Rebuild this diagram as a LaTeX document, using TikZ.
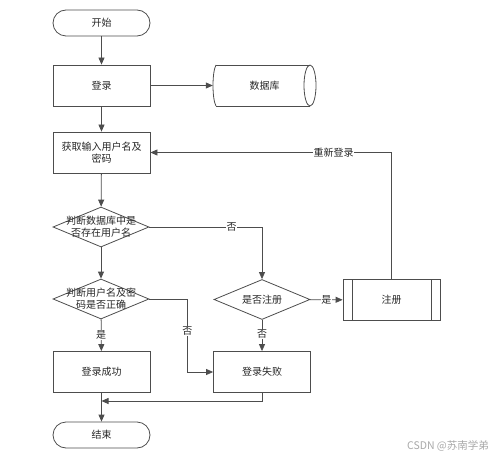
\documentclass[tikz,border=0pt]{standalone}
\usepackage{fontspec}
\newfontfamily\cjk{Noto Sans CJK SC}
\usetikzlibrary{arrows.meta,shapes.geometric}
\definecolor{ln}{HTML}{4D4D4D}
\definecolor{wmc}{HTML}{A8A8A8}
\tikzset{
  base/.style={draw=ln,line width=0.8pt,font=\cjk\fontsize{10}{12}\selectfont,text=black!85,align=center,inner sep=0pt},
  term/.style={base,rectangle,rounded corners=13pt,minimum width=97pt,minimum height=26pt},
  proc/.style={base,rectangle,minimum width=97pt,minimum height=41pt},
  dec/.style={base,diamond,minimum width=96pt,minimum height=40pt,fill=white},
  dtext/.style={font=\cjk\fontsize{10}{12}\selectfont,text=black!85,align=center,inner sep=0pt},
  arr/.style={draw=ln,line width=0.8pt,-{Triangle[length=7pt,width=6pt]}},
  plain/.style={draw=ln,line width=0.8pt},
  lab/.style={font=\cjk\fontsize{10}{12}\selectfont,text=black!85,fill=white,inner sep=0.5pt},
  wm/.style={font=\cjk\fontsize{10.5}{12}\selectfont,text=wmc,inner sep=0pt}
}
\begin{document}
\begin{tikzpicture}[x=1pt,y=-1pt]
\useasboundingbox (0,0) rectangle (500,465);
\node[term] (start) at (101.5,23) {开始};
\node[proc] (login) at (101.5,85.5) {登录};
\node[inner sep=0pt,minimum width=103pt,minimum height=41pt,font=\cjk\fontsize{10}{12}\selectfont,text=black!85] (db) at (264.5,85.5) {数据库};
\draw[plain] (216,65) -- (310,65);
\draw[plain] (216,106) -- (310,106);
\draw[plain] (216,65) .. controls (212,72) and (212,99) .. (216,106);
\draw[plain] (310,85.5) ellipse [x radius=6pt,y radius=20.5pt];
\node[proc] (input) at (101.5,152.5) {获取输入用户名及\\密码};
\node[dec] (d1) at (101,227) {};
\node[dtext] (d1t) at (d1.center) {判断数据库中是\\否存在用户名};
\node[dec] (d2) at (101,299) {};
\node[dtext] (d2t) at (d2.center) {判断用户名及密\\码是否正确};
\node[dec] (d3) at (262,299.5) {};
\node[dtext] (d3t) at (d3.center) {是否注册};
\node[proc] (reg) at (391.5,300) {注册};
\draw[plain] ([xshift=10pt]reg.north west) -- ([xshift=10pt]reg.south west);
\draw[plain] ([xshift=-9pt]reg.north east) -- ([xshift=-9pt]reg.south east);
\node[proc] (succ) at (101.5,372) {登录成功};
\node[proc] (fail) at (262,372) {登录失败};
\node[term] (end) at (101.5,435) {结束};
\coordinate (merge) at (101.5,401);
\node[wm] (wmk) at (448,446) {CSDN @苏南学弟};

\draw[arr] (start) -- (login);
\draw[arr] (login) -- (db);
\draw[arr] (login) -- (input);
\draw[arr] (input) -- (d1);
\draw[arr] (d1) -- (d2);
\draw[arr] (d1.east) -- node[lab,pos=0.73]{否} (d1.east -| d3.north) -- (d3.north);
\draw[arr] (d3) -- node[lab]{是} (reg);
\draw[arr] (reg.north) |- node[lab,pos=0.62]{重新登录} (input.east);
\draw[arr] (d2) -- node[lab]{是} (succ);
\draw[arr] (d3) -- node[lab,pos=0.45]{否} (fail);
\draw[arr] (d2.east) -- ++(38,0) |- node[lab,pos=0.22]{否} (fail.west);
\draw[arr] (fail.south) |- (merge);
\draw[arr] (succ) -- (end);
\end{tikzpicture}
\end{document}
